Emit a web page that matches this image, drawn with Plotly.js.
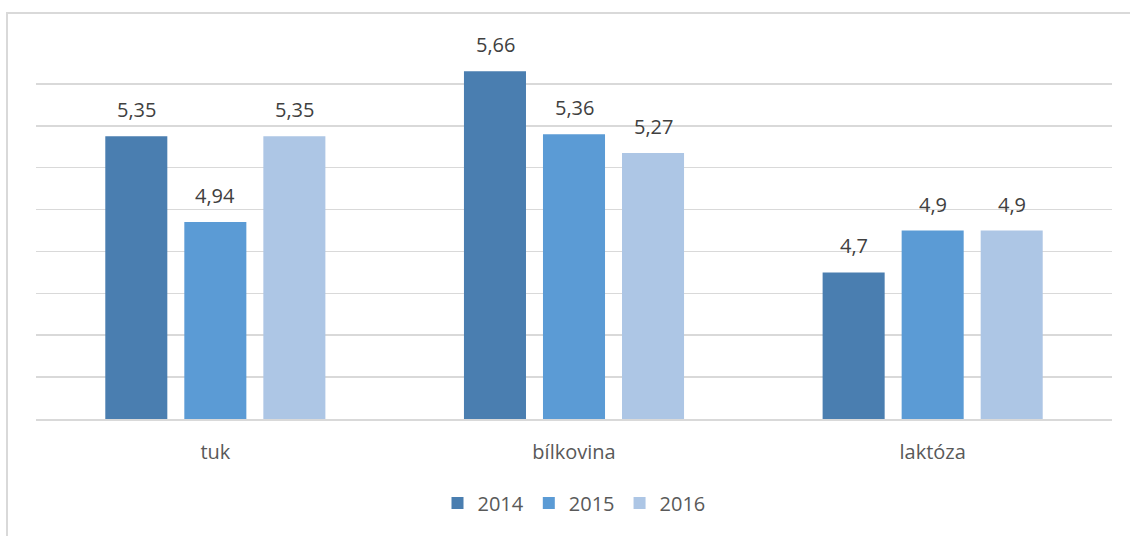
<!DOCTYPE html>
<html>
<head>
<meta charset="utf-8">
<script src="https://cdn.plot.ly/plotly-3.0.1.min.js"></script>
<style>
html,body{margin:0;padding:0;background:#fff;overflow:hidden;}
#frame{position:absolute;left:6px;top:12px;width:1300px;height:700px;border:2px solid #d9d9d9;box-sizing:border-box;pointer-events:none;z-index:5;}
#chart{position:absolute;left:0;top:0;width:1130px;height:536px;}
</style>
</head>
<body>
<div id="chart"></div>
<div id="frame"></div>
<script>
const categories = ["tuk", "bílkovina", "laktóza"];
const seriesNames = ["2014", "2015", "2016"];
const values2014 = [5.35, 5.66, 4.7];
const values2015 = [4.94, 5.36, 4.9];
const values2016 = [5.35, 5.27, 4.9];
const colors = ["#4a7eb0", "#5b9bd5", "#adc6e5"];

const allValues = [values2014, values2015, values2016];
const fmt = v => String(v).replace('.', ',');
const FONT = 'Open Sans, sans-serif';

const traces = allValues.map((vals, i) => ({
  type: 'bar',
  name: seriesNames[i],
  x: categories,
  y: vals,
  marker: {color: colors[i]},
  hoverinfo: 'skip'
}));

// data labels above bars (offset per series to sit over grouped bars)
const slotPx = 79;
const annotations = [];
allValues.forEach((vals, i) => {
  vals.forEach((v, j) => {
    annotations.push({
      x: categories[j], y: v, xref: 'x', yref: 'y',
      text: fmt(v), showarrow: false,
      xanchor: 'center', yanchor: 'bottom',
      xshift: (i - 1) * slotPx, yshift: 11,
      font: {family: FONT, size: 20, color: '#404040'}
    });
  });
});

const layout = {
  width: 1130,
  height: 536,
  margin: {l: 36, r: 18, t: 42, b: 117},
  paper_bgcolor: '#ffffff',
  plot_bgcolor: '#ffffff',
  barmode: 'group',
  bargap: 0.339,
  bargroupgap: 0.215,
  showlegend: true,
  annotations: annotations,
  legend: {
    orientation: 'h',
    x: 0.5, xanchor: 'center',
    y: -0.223, yanchor: 'middle',
    font: {family: FONT, size: 20, color: '#595959'},
    itemwidth: 30,
    traceorder: 'normal'
  },
  xaxis: {
    type: 'category',
    showgrid: false,
    showline: true,
    linecolor: '#d9d9d9',
    linewidth: 2,
    ticks: '',
    ticklabelstandoff: 14,
    tickfont: {family: FONT, size: 20, color: '#595959'},
    fixedrange: true
  },
  yaxis: {
    range: [4, 5.8],
    dtick: 0.2,
    tick0: 4,
    showgrid: true,
    gridcolor: '#d9d9d9',
    gridwidth: 1.5,
    showticklabels: false,
    zeroline: false,
    showline: false,
    ticks: '',
    fixedrange: true
  }
};

Plotly.newPlot('chart', traces, layout, {displayModeBar: false, staticPlot: true});
</script>
</body>
</html>
